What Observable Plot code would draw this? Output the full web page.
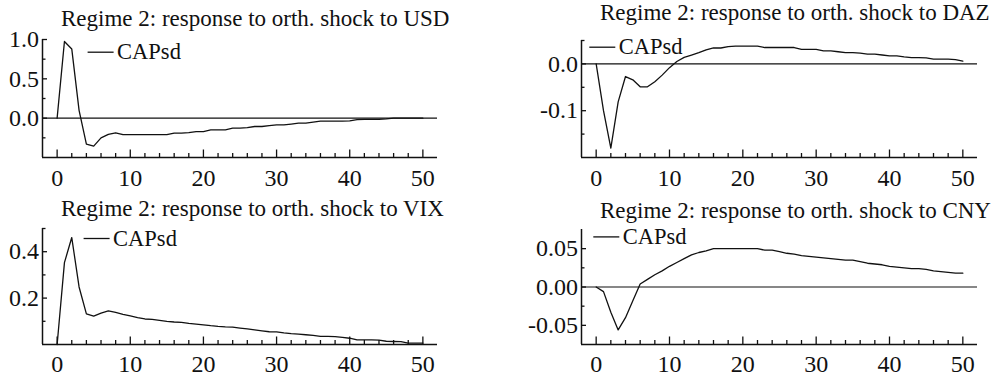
<!DOCTYPE html>
<html>
<head>
<meta charset="utf-8">
<script src="https://cdn.jsdelivr.net/npm/d3@7"></script>
<script src="https://cdn.jsdelivr.net/npm/@observablehq/plot@0.6"></script>
<style>
  body { margin: 0; background: #fff; }
  #root { position: relative; width: 993px; height: 372px; overflow: hidden; background: #fff; }
  .panel { position: absolute; }
</style>
</head>
<body>
<div id="root"></div>
<script>
// ---- data ----
const horizons = [0,1,2,3,4,5,6,7,8,9,10,11,12,13,14,15,16,17,18,19,20,21,22,23,24,25,
  26,27,28,29,30,31,32,33,34,35,36,37,38,39,40,41,42,43,44,45,46,47,48,49,50];
const seriesName = "CAPsd";
const titlePrefix = "Regime 2: response to orth. shock to ";
const shocks = ["USD", "DAZ", "VIX", "CNY"];

const usd = [0, 0.975, 0.88, 0.10, -0.33, -0.355, -0.25, -0.205, -0.186, -0.21,
  -0.21, -0.21, -0.21, -0.21, -0.21, -0.21, -0.19, -0.19, -0.185, -0.17,
  -0.17, -0.15, -0.15, -0.148, -0.127, -0.127, -0.12, -0.106, -0.106, -0.095,
  -0.085, -0.085, -0.075, -0.064, -0.064, -0.05, -0.038, -0.038, -0.038, -0.038,
  -0.035, -0.018, -0.015, -0.015, -0.015, -0.01, 0, 0, 0, 0, 0];
const daz = [0, -0.1, -0.18, -0.081, -0.027, -0.034, -0.049, -0.049, -0.038, -0.024,
  -0.008, 0.005, 0.014, 0.019, 0.024, 0.03, 0.034, 0.034, 0.037, 0.038,
  0.038, 0.038, 0.038, 0.035, 0.035, 0.035, 0.035, 0.035, 0.031, 0.031,
  0.031, 0.028, 0.028, 0.026, 0.024, 0.024, 0.023, 0.021, 0.021, 0.019,
  0.017, 0.017, 0.015, 0.0136, 0.0136, 0.013, 0.01, 0.01, 0.01, 0.009, 0.006];
const vix = [0, 0.353, 0.461, 0.248, 0.132, 0.122, 0.135, 0.145, 0.138, 0.13,
  0.123, 0.116, 0.11, 0.108, 0.104, 0.10, 0.097, 0.095, 0.091, 0.088,
  0.085, 0.081, 0.078, 0.076, 0.075, 0.071, 0.067, 0.063, 0.059, 0.055,
  0.054, 0.05, 0.047, 0.045, 0.042, 0.039, 0.035, 0.035, 0.034, 0.031,
  0.027, 0.02, 0.02, 0.02, 0.019, 0.014, 0.013, 0.012, 0.006, 0.006, 0.006];
const cny = [0, -0.006, -0.033, -0.056, -0.04, -0.018, 0.004, 0.01, 0.016, 0.021,
  0.027, 0.032, 0.037, 0.042, 0.045, 0.047, 0.05, 0.05, 0.05, 0.05,
  0.05, 0.05, 0.05, 0.048, 0.048, 0.046, 0.044, 0.043, 0.041, 0.04,
  0.039, 0.038, 0.037, 0.036, 0.035, 0.035, 0.033, 0.031, 0.03, 0.029,
  0.027, 0.026, 0.025, 0.024, 0.024, 0.023, 0.021, 0.02, 0.019, 0.018, 0.018];

const xDomain = [-2, 52];
const xMajorTicks = [0, 10, 20, 30, 40, 50];
const xMinorTicks = [2,4,6,8,12,14,16,18,22,24,26,28,32,34,36,38,42,44,46,48];

const usdDomain = [-0.5, 1.0];
const usdTicks = [0, 0.5, 1.0];
const usdMinor = [-0.25, 0.25, 0.75];
const dazDomain = [-0.2, 0.05];
const dazTicks = [-0.1, 0.0];
const dazMinor = [-0.15, -0.05, 0.05];
const vixDomain = [0, 0.5];
const vixTicks = [0.2, 0.4];
const vixMinor = [0.1, 0.3, 0.5];
const cnyDomain = [-0.075, 0.075];
const cnyTicks = [-0.05, 0, 0.05];
const cnyMinor = [-0.025, 0.025];

// ---- layout ----
const ink = "#111";
const font = "'Liberation Serif', 'Times New Roman', serif";
const tickFont = 24;
const titleFont = 23;
const legendFont = 22.5;

const panels = [
  {shock: shocks[0], values: usd, domain: usdDomain, ticks: usdTicks, minor: usdMinor, digits: 1,
   left: 0, top: 0, width: 500, height: 190, ml: 42, mr: 63, mt: 39, mb: 33, xPad: 11.5,
   titleDy: -20.5, legDx: 45.6, legDy: 12.7, zero: true},
  {shock: shocks[1], values: daz, domain: dazDomain, ticks: dazTicks, minor: dazMinor, digits: 1,
   left: 500, top: 0, width: 493, height: 190, ml: 81, mr: 16, mt: 40, mb: 33, xPad: 11.5,
   titleDy: -27.5, legDx: 8.3, legDy: 6.7, zero: true},
  {shock: shocks[2], values: vix, domain: vixDomain, ticks: vixTicks, minor: vixMinor, digits: 1,
   left: 0, top: 190, width: 500, height: 182, ml: 42, mr: 63, mt: 38, mb: 28, xPad: 10.5,
   titleDy: -19.5, legDx: 41.6, legDy: 10, zero: false},
  {shock: shocks[3], values: cny, domain: cnyDomain, ticks: cnyTicks, minor: cnyMinor, digits: 2,
   left: 500, top: 190, width: 493, height: 182, ml: 81, mr: 16, mt: 39, mb: 28, xPad: 10.5,
   titleDy: -18.5, legDx: 12.3, legDy: 7.4, zero: true}
];

const root = document.getElementById("root");

for (const p of panels) {
  const data = horizons.map((h, i) => ({h, v: p.values[i]}));
  const plotW = p.width - p.ml - p.mr;
  const plotH = p.height - p.mt - p.mb;
  const fmt = d => d.toFixed(p.digits);
  const marks = [];
  if (p.zero) marks.push(Plot.ruleY([0], {stroke: ink, strokeWidth: 1.2}));
  marks.push(
    // axis lines
    Plot.ruleX([xDomain[0]], {stroke: ink, strokeWidth: 1.5}),
    Plot.ruleY([p.domain[0]], {stroke: ink, strokeWidth: 1.5}),
    // inward ticks
    Plot.ruleX(xMajorTicks, {stroke: ink, strokeWidth: 1.3, insetTop: plotH - 7.5}),
    Plot.ruleX(xMinorTicks, {stroke: ink, strokeWidth: 1.3, insetTop: plotH - 4}),
    Plot.ruleY(p.ticks, {stroke: ink, strokeWidth: 1.3, insetRight: plotW - 5}),
    Plot.ruleY(p.minor, {stroke: ink, strokeWidth: 1.3, insetRight: plotW - 3.5}),
    // tick labels
    Plot.axisX(xMajorTicks, {tickSize: 0, tickPadding: p.xPad, label: null, fontSize: tickFont, fill: ink}),
    Plot.axisY(p.ticks, {tickSize: 0, tickPadding: 3.5, label: null, tickFormat: fmt, fontSize: tickFont, fill: ink}),
    // series line
    Plot.line(data, {x: "h", y: "v", stroke: ink, strokeWidth: 1.3}),
    // title
    Plot.text([titlePrefix + p.shock], {frameAnchor: "top-left", textAnchor: "start", lineAnchor: "middle",
      dx: 18.5, dy: p.titleDy, fontSize: titleFont, fill: ink}),
    // legend
    Plot.ruleY([p.domain[1]], {dy: p.legDy, insetLeft: p.legDx, insetRight: plotW - p.legDx - 26,
      stroke: ink, strokeWidth: 1.3}),
    Plot.text([seriesName], {frameAnchor: "top-left", textAnchor: "start", lineAnchor: "middle",
      dx: p.legDx + 29, dy: p.legDy, fontSize: legendFont, fill: ink})
  );
  const chart = Plot.plot({
    width: p.width, height: p.height,
    marginLeft: p.ml, marginRight: p.mr, marginTop: p.mt, marginBottom: p.mb,
    x: {domain: xDomain},
    y: {domain: p.domain},
    style: {fontFamily: font, fontSize: tickFont + "px", background: "transparent", color: ink, overflow: "visible"},
    marks
  });
  const div = document.createElement("div");
  div.className = "panel";
  div.style.left = p.left + "px";
  div.style.top = p.top + "px";
  div.appendChild(chart);
  root.appendChild(div);
}
</script>
</body>
</html>
